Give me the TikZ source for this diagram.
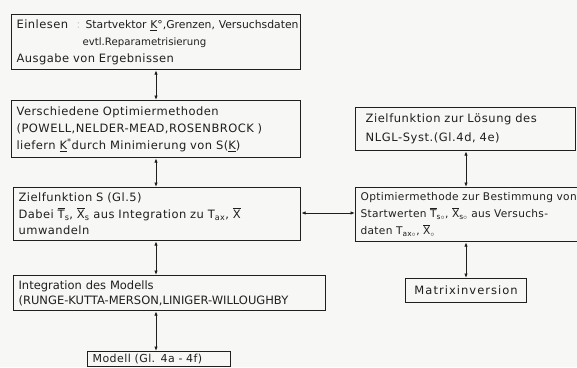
\documentclass[tikz,border=0pt]{standalone}
\usepackage{amsmath}
\usepackage{fontspec}
\setmainfont{DejaVu Sans}
\newfontfamily\plainf{DejaVu Sans}
\usetikzlibrary{arrows.meta}
\definecolor{Ink}{HTML}{1F1F1F}
\definecolor{Paper}{HTML}{F7F7F5}
\newcommand{\ulK}{\underline{K}}
\newcommand{\barT}{$\overline{\text{T}}$}
\newcommand{\barX}{$\overline{\text{X}}$}
\newcommand{\fsz}[1]{\fontsize{#1}{17}\selectfont}
\tikzset{
  blk/.style={draw=Ink,line width=1.2pt,anchor=north west,align=left,inner xsep=5pt,
              inner ysep=1pt,text=Ink,font=\fontsize{11.5}{17}\selectfont\addfontfeature{LetterSpace=4}},
  link/.style={{Latex[length=4.5pt,width=3.5pt]}-{Latex[length=4.5pt,width=3.5pt]},line width=1pt,draw=Ink}
}
\begin{document}
\begin{tikzpicture}[x=1pt,y=-1pt]
  \clip (0,0) rectangle (577,367);
  \fill[Paper] (0,0) rectangle (577,367);

  % left column
  \node[blk,text width=279pt,minimum height=55pt] (einlesen) at (11,14)
    {\mbox{\makebox[60pt][l]{Einlesen}\makebox[9pt][l]{\color{gray!40}:}{\plainf\fsz{10.8}Startvektor \ulK°,Grenzen, Versuchsdaten}}\\
     \hspace*{66pt}{\plainf\fsz{10.2}evtl.Reparametrisierung}\\
     Ausgabe von Ergebnissen};
  \node[blk,text width=279pt,minimum height=57pt] (optim) at (11,100)
    {Verschiedene Optimiermethoden\\
     (POWELL,NELDER-MEAD,ROSENBROCK )\\
     liefern \ulK\textsuperscript{*}durch Minimierung von S(\ulK)};
  \node[blk,text width=277pt,minimum height=53pt,font=\fontsize{11.5}{16.5}\selectfont\addfontfeature{LetterSpace=4}] (zielS) at (13,187)
    {Zielfunktion S (Gl.5)\\
     Dabei \barT$_{\text{s}}$, \barX$_{\text{s}}$ aus Integration zu T$_{\text{ax}}$, \barX\\
     umwandeln};
  \node[blk,text width=302pt,minimum height=35pt,font=\fontsize{11.5}{15}\selectfont] (integ) at (13,275)
    {Integration des Modells\\
     (RUNGE-KUTTA-MERSON,LINIGER-WILLOUGHBY};
  \node[blk,text width=133pt,minimum height=15pt,inner ysep=0pt,font=\fontsize{11}{13}\selectfont\addfontfeature{LetterSpace=4}] (modell) at (87,351)
    {Modell (Gl. 4a - 4f)};

  % right column
  \node[blk,text width=200pt,inner xsep=10pt,minimum height=43pt,font=\fontsize{11.5}{19}\selectfont\addfontfeature{LetterSpace=5}] (zielN) at (355,107)
    {Zielfunktion zur Lösung des\\
     NLGL-Syst.(Gl.4d, 4e)};
  \node[blk,text width=260pt,inner xsep=5pt,minimum height=54pt,font=\fontsize{10.6}{17}\selectfont\addfontfeature{LetterSpace=3}] (start) at (355,187)
    {\mbox{Optimiermethode zur Bestimmung von}\\
     Startwerten \barT$_{\text{s}\circ}$, \barX$_{\text{s}\circ}$ aus Versuchs-\\
     daten T$_{\text{ax}\circ}$, \barX$_{\circ}$};
  \node[blk,text width=111pt,minimum height=24pt,inner ysep=0pt,align=center,font=\fontsize{11.5}{13}\selectfont\addfontfeature{LetterSpace=9}] (matrix) at (405,278)
    {Matrixinversion};

  % connectors
  \coordinate (lx) at (156,0);
  \coordinate (rx) at (466,0);
  \coordinate (hy) at (0,213);
  \draw[link] (einlesen.south -| lx) -- (optim.north -| lx);
  \draw[link] (optim.south -| lx) -- (zielS.north -| lx);
  \draw[link] (zielS.south -| lx) -- (integ.north -| lx);
  \draw[link] (integ.south -| lx) -- (modell.north -| lx);
  \draw[link] (zielS.east |- hy) -- (start.west |- hy);
  \draw[link] (zielN.south -| rx) -- (start.north -| rx);
  \draw[link] (start.south -| rx) -- (matrix.north -| rx);
\end{tikzpicture}
\end{document}
